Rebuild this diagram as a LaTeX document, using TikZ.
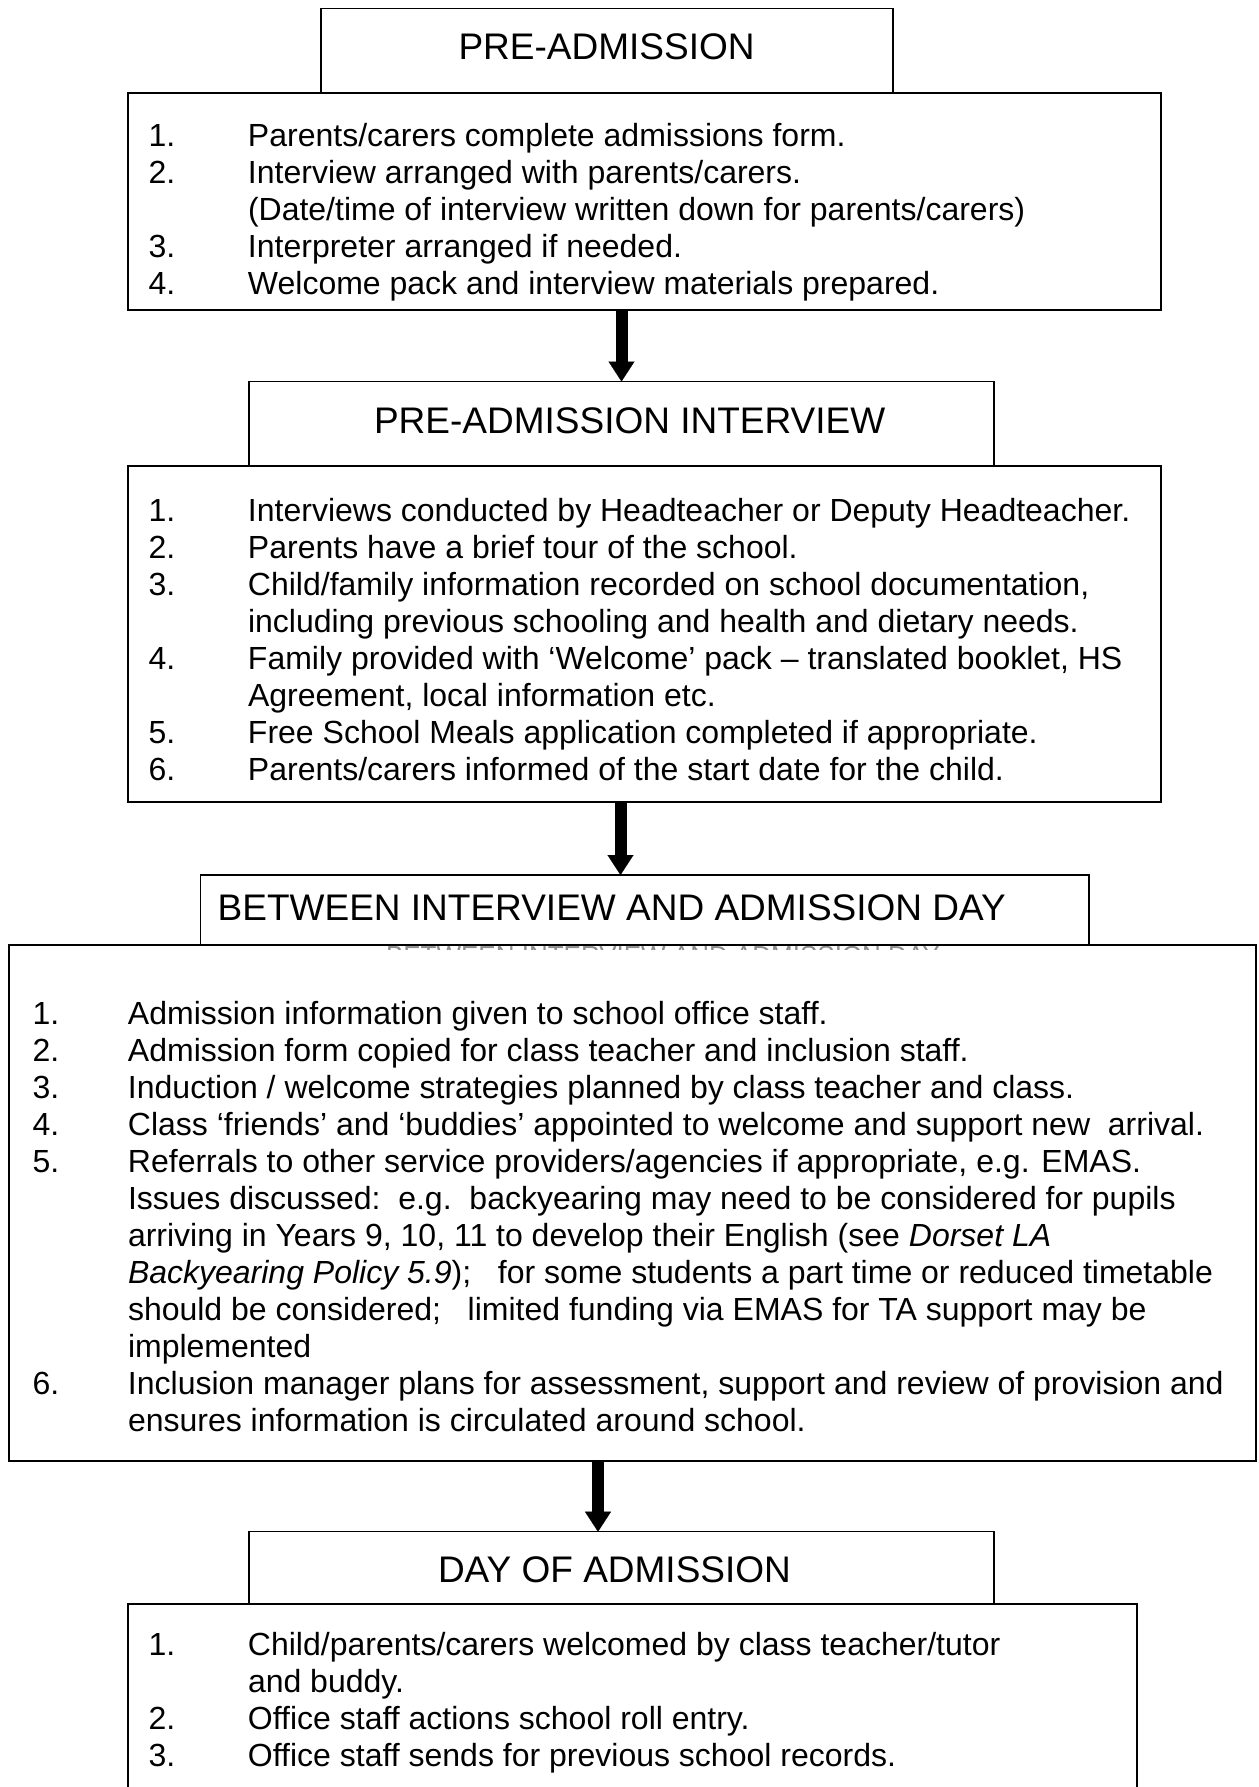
\documentclass[tikz,border=0pt]{standalone}
\usepackage{fontspec}
\setmainfont{Liberation Sans}
\usetikzlibrary{arrows.meta}
\begin{document}
\begin{tikzpicture}[x=1pt,y=-1pt,
  hdrbox/.style={draw=black,line width=1.4pt,fill=white,inner sep=0pt,outer sep=0pt,anchor=north west,rectangle},
  panel/.style={draw=black,line width=2pt,inner sep=0pt,outer sep=0pt,anchor=north west,rectangle},
  hdrtxt/.style={inner sep=0pt,outer sep=0pt,anchor=base west,font=\fontsize{37}{42}\selectfont},
  listtxt/.style={inner sep=0pt,outer sep=0pt,anchor=base west,font=\fontsize{32}{37}\selectfont,align=left},
  ghosttxt/.style={inner sep=0pt,outer sep=0pt,anchor=north west,text=black!45,font=\fontsize{26}{30}\selectfont},
  flowarrow/.style={draw=black,line width=12pt,-{Triangle[width=26pt,length=20pt,line width=0.1pt]}}]

\fill[white] (0,0) rectangle (1258,1787);
\useasboundingbox (0,0) rectangle (1258,1787);

% ---------- PRE-ADMISSION ----------
\node[hdrbox,minimum width=572pt,minimum height=84.4pt] (h1) at (321,8.3) {};
\node[panel,minimum width=1033pt,minimum height=217.3pt] (b1) at (128,92.7) {};
\node[hdrtxt] (h1t) at (458.5,60) {PRE-ADMISSION};
\node[listtxt] (l1) at (148.5,147) {\begin{tabular}[t]{@{}p{99.5pt}@{}l@{}}
1. & Parents/carers complete admissions form.\\
2. & Interview arranged with parents/carers.\\
   & (Date/time of interview written down for parents/carers)\\
3. & Interpreter arranged if needed.\\
4. & Welcome pack and interview materials prepared.
\end{tabular}};

% ---------- PRE-ADMISSION INTERVIEW ----------
\node[hdrbox,minimum width=745pt,minimum height=84.2pt] (h2) at (249,381.5) {};
\node[panel,minimum width=1033pt,minimum height=336pt] (b2) at (128,465.7) {};
\node[hdrtxt] (h2t) at (374,433) {PRE-ADMISSION INTERVIEW};
\node[listtxt] (l2) at (148.5,521) {\begin{tabular}[t]{@{}p{99.5pt}@{}l@{}}
1. & Interviews conducted by Headteacher or Deputy Headteacher.\\
2. & Parents have a brief tour of the school.\\
3. & Child/family information recorded on school documentation,\\
   & including previous schooling and health and dietary needs.\\
4. & Family provided with ‘Welcome’ pack – translated booklet, HS\\
   & Agreement, local information etc.\\
5. & Free School Meals application completed if appropriate.\\
6. & Parents/carers informed of the start date for the child.
\end{tabular}};

% ---------- BETWEEN INTERVIEW AND ADMISSION DAY ----------
\node[hdrbox,minimum width=888.4pt,minimum height=70.4pt] (h3) at (200.6,875) {};
\begin{scope}
  \clip (380,946.5) rectangle (950,949.5);
  \node[ghosttxt] (ghost) at (386,946) {BETWEEN INTERVIEW AND ADMISSION DAY};
\end{scope}
\node[panel,minimum width=1247pt,minimum height=515.6pt] (b3) at (9,945.4) {};
\node[hdrtxt] (h3t) at (217.7,920) {BETWEEN INTERVIEW AND ADMISSION DAY};
\node[listtxt] (l3) at (32.5,1024) {\begin{tabular}[t]{@{}p{95.5pt}@{}l@{}}
1. & Admission information given to school office staff.\\
2. & Admission form copied for class teacher and inclusion staff.\\
3. & Induction / welcome strategies planned by class teacher and class.\\
4. & Class ‘friends’ and ‘buddies’ appointed to welcome and support new\ \ arrival.\\
5. & Referrals to other service providers/agencies if appropriate, e.g. EMAS.\\
   & Issues discussed:\ \ e.g.\ \ backyearing may need to be considered for pupils\\
   & arriving in Years 9, 10, 11 to develop their English (see \textit{Dorset LA}\\
   & \textit{Backyearing Policy 5.9});\ \ \ for some students a part time or reduced timetable\\
   & should be considered;\ \ \ limited funding via EMAS for TA support may be\\
   & implemented\\
6. & Inclusion manager plans for assessment, support and review of provision and\\
   & ensures information is circulated around school.
\end{tabular}};

% ---------- DAY OF ADMISSION ----------
\node[hdrbox,minimum width=745pt,minimum height=72.3pt] (h4) at (249,1531.7) {};
\node[panel,minimum width=1009pt,minimum height=200pt] (b4) at (128,1604) {};
\node[hdrtxt] (h4t) at (438,1582) {DAY OF ADMISSION};
\node[listtxt] (l4) at (148.5,1655) {\begin{tabular}[t]{@{}p{99.5pt}@{}l@{}}
1. & Child/parents/carers welcomed by class teacher/tutor\\
   & and buddy.\\
2. & Office staff actions school roll entry.\\
3. & Office staff sends for previous school records.
\end{tabular}};

% ---------- connectors ----------
\draw[flowarrow] (b1.south -| h2.north) -- (h2.north);
\draw[flowarrow] ([xshift=-24pt]b2.south) -- ([xshift=-24pt]b2.south |- h3.north);
\draw[flowarrow] ([xshift=-34.5pt]b3.south) -- ([xshift=-34.5pt]b3.south |- h4.north);
\end{tikzpicture}
\end{document}
